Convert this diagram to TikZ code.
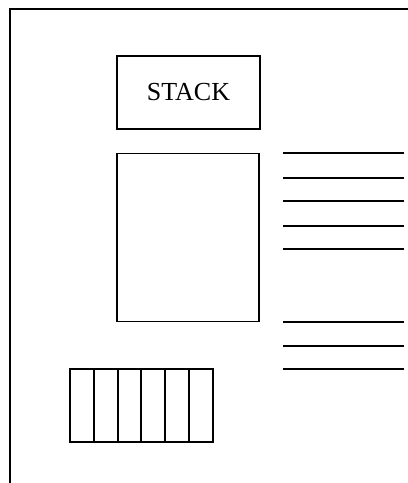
\documentclass[tikz,border=0pt]{standalone}
\usepackage{fontspec}
\setmainfont{Liberation Serif}
\tikzset{
  box/.style={draw, line width=1.4pt, inner sep=0pt},
  rule/.style={line width=1.4pt}
}
\begin{document}
\begin{tikzpicture}[x=0.025cm,y=-0.025cm]
      \useasboundingbox (0,0) rectangle (408,483);
      % Outer frame (top and left edges)
      \draw[rule] (408,9) -- (10,9) -- (10,483);
      % Stack box
      \node[box, minimum width=143*0.025cm, minimum height=73*0.025cm] (stack) at (188.5,92.5) {\fontsize{18.5}{22}\selectfont STACK};
      % Large box below
      \node[box, minimum width=142*0.025cm, minimum height=168*0.025cm] (body) at (188,237.5) {};
      % Lines on the right
      \foreach \y in {153,178,201,226,249,322,346,369}
        \draw[rule] (283,\y) -- (404,\y);
      % Row of cells
      \foreach \i in {0,...,5}
        \node[box, minimum width=23.8*0.025cm, minimum height=73*0.025cm] (cell\i) at (70+11.9+23.8*\i,405.5) {};
    \end{tikzpicture}
\end{document}
